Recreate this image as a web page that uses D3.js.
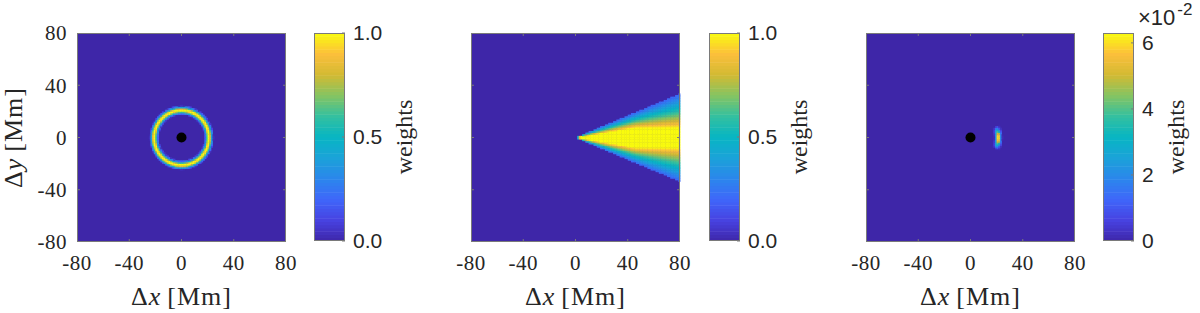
<!DOCTYPE html>
<html>
<head>
<meta charset="utf-8">
<script src="https://cdn.jsdelivr.net/npm/d3@7"></script>
<style>
  body { margin: 0; background: #fff; }
  text { fill: #262626; }
</style>
</head>
<body>
<svg id="chart" width="1200" height="313"></svg>
<script>
// axis ticks (Mm), same on both axes
const axisTicks = [-80, -40, 0, 40, 80];

// colorbar ticks
const unitTicks = [0, 0.5, 1];
const unitTickLabels = ["0.0", "0.5", "1.0"];
const smallTicks = [0, 0.02, 0.04, 0.06];
const smallTickLabels = ["0", "2", "4", "6"];
const smallMax = 0.063;

// parula colours, evenly spaced from 0 to 1
const parulaStops = [
  "#3e26a8", "#4742e1", "#3f66fa", "#2b86ec", "#1ba2d9", "#07b5c3",
  "#33c0a0", "#85c462", "#d2ba33", "#fcbf3b", "#f9fb0e"
];

// panel 1: ring weight against distance from the centre (Mm)
const ringRadius = [17.5, 19, 20.5, 21.5, 23, 24.5];
const ringWeight = [0, 0.45, 1, 1, 0.45, 0];

// panel 2: cone opening towards +x
const coneEdgeAngle = 22.8;   // deg, half opening
const coneCore = 7.7;         // Mm, half width of the full-weight core
const coneCoreShare = 0.4;    // core never wider than this share of the cone
// weight from the core (0) out to the cone edge (1)
const coneDepth = [0, 0.05, 0.15, 0.4, 0.7, 1];
const coneWeight = [1, 0.94, 0.85, 0.65, 0.42, 0.2];

// panel 3: small patch on the ring towards +x
const patchRadius = [18, 19.4, 20.5, 22, 23.1, 24.5];
const patchRadialWeight = [0, 0.35, 1, 1, 0.35, 0];
const patchAngle = [0, 8, 14, 19, 24];
const patchAngularWeight = [1, 0.85, 0.55, 0.3, 0];
const patchPeak = 0.062;

const gridStep = 1.25;

let svg = d3.select("#chart");
svg.append("rect").attr("width", 1200).attr("height", 313).attr("fill", "#fff");

let serif = "'Liberation Serif', 'Times New Roman', serif";
let sans = "'Liberation Sans', Arial, sans-serif";
let boxColour = "#7a7a7a";

let ringScale = d3.scaleLinear().domain(ringRadius).range(ringWeight).clamp(true);
let coneScale = d3.scaleLinear().domain(coneDepth).range(coneWeight).clamp(true);
let patchRScale = d3.scaleLinear().domain(patchRadius).range(patchRadialWeight).clamp(true);
let patchAScale = d3.scaleLinear().domain(patchAngle).range(patchAngularWeight).clamp(true);

function ringField(x, y) {
  return ringScale(Math.hypot(x, y));
}

function coneField(x, y) {
  if (x <= 0) return 0;
  let edge = x * Math.tan(coneEdgeAngle * Math.PI / 180);
  let ay = Math.abs(y);
  if (ay > edge) return 0;
  let core = Math.min(coneCore, coneCoreShare * edge);
  let u = Math.max(0, (ay - core) / (edge - core));
  return coneScale(u);
}

function patchField(x, y) {
  if (x <= 0) return 0;
  let angle = Math.atan2(Math.abs(y), x) * 180 / Math.PI;
  return patchPeak * patchRScale(Math.hypot(x, y)) * patchAScale(angle);
}

let panels = [
  { left: 77, cbLeft: 314, field: ringField, max: 1, ticks: unitTicks, labels: unitTickLabels, dot: true, yLabels: true },
  { left: 471, cbLeft: 709, field: coneField, max: 1, ticks: unitTicks, labels: unitTickLabels, dot: false, yLabels: false },
  { left: 866, cbLeft: 1103, field: patchField, max: smallMax, ticks: smallTicks, labels: smallTickLabels, dot: true, yLabels: false, exponent: true }
];

let plotTop = 33, size = 209, cbWidth = 31, cbHeight = 208;

panels.forEach((p) => drawPanel(p));

function axisLabel(g, letter) {
  g.append("tspan").text("\u0394");
  g.append("tspan").style("font-style", "italic").text(letter);
  g.append("tspan").attr("dx", 6).text("[Mm]");
}

function drawPanel(p) {
  let g = svg.append("g");

  let x = d3.scaleLinear().domain([-80, 80]).range([p.left, p.left + size]);
  let y = d3.scaleLinear().domain([-80, 80]).range([plotTop + size, plotTop]);

  let colour = d3.scaleLinear()
    .domain(parulaStops.map((c, i) => (i / (parulaStops.length - 1)) * p.max))
    .range(parulaStops)
    .interpolate(d3.interpolateRgb)
    .clamp(true);

  // build the cells
  let n = Math.round(160 / gridStep);
  let cells = [];
  for (let i = 0; i < n; i++) {
    for (let j = 0; j < n; j++) {
      let cx = -80 + (i + 0.5) * gridStep;
      let cy = -80 + (j + 0.5) * gridStep;
      let w = p.field(cx, cy);
      if (w > 0) cells.push({ x: cx, y: cy, w: w });
    }
  }

  g.append("rect")
    .attr("x", x(-80)).attr("y", y(80))
    .attr("width", size).attr("height", size)
    .attr("fill", colour(0));

  let cw = x(gridStep) - x(0);
  g.selectAll(".cell")
    .data(cells)
    .enter()
    .append("rect")
    .attr("class", "cell")
    .attr("x", (d) => x(d.x - gridStep / 2))
    .attr("y", (d) => y(d.y + gridStep / 2))
    .attr("width", cw + 0.4)
    .attr("height", cw + 0.4)
    .attr("fill", (d) => colour(d.w));

  if (p.dot) {
    g.append("circle")
      .attr("cx", x(0)).attr("cy", y(0)).attr("r", 5)
      .attr("fill", "#000");
  }

  // ticks inside the box
  let tickLen = 3;
  axisTicks.slice(1, -1).forEach((t) => {
    g.append("line").attr("x1", x(t)).attr("x2", x(t))
      .attr("y1", plotTop + size).attr("y2", plotTop + size - tickLen)
      .attr("stroke", boxColour);
    g.append("line").attr("x1", x(t)).attr("x2", x(t))
      .attr("y1", plotTop).attr("y2", plotTop + tickLen)
      .attr("stroke", boxColour);
    g.append("line").attr("y1", y(t)).attr("y2", y(t))
      .attr("x1", p.left).attr("x2", p.left + tickLen)
      .attr("stroke", boxColour);
    g.append("line").attr("y1", y(t)).attr("y2", y(t))
      .attr("x1", p.left + size).attr("x2", p.left + size - tickLen)
      .attr("stroke", boxColour);
  });

  g.append("rect")
    .attr("x", p.left + 0.5).attr("y", plotTop + 0.5)
    .attr("width", size - 1).attr("height", size - 1)
    .attr("fill", "none").attr("stroke", boxColour);

  // x tick labels
  g.selectAll(".xt")
    .data(axisTicks)
    .enter()
    .append("text")
    .attr("x", (d) => x(d))
    .attr("y", 270)
    .attr("text-anchor", "middle")
    .style("font-family", serif)
    .style("font-size", "21px")
    .style("letter-spacing", "0.5px")
    .text((d) => d);

  let xl = g.append("text")
    .attr("x", p.left + size / 2)
    .attr("y", 305)
    .attr("text-anchor", "middle")
    .style("font-family", serif)
    .style("font-size", "26px")
    .style("letter-spacing", "1px");
  axisLabel(xl, "x");

  if (p.yLabels) {
    g.selectAll(".yt")
      .data(axisTicks)
      .enter()
      .append("text")
      .attr("x", p.left - 10)
      .attr("y", (d) => y(d))
      .attr("dy", "0.35em")
      .attr("text-anchor", "end")
      .style("font-family", serif)
      .style("font-size", "21px")
      .style("letter-spacing", "0.5px")
      .text((d) => d);

    let yl = g.append("text")
      .attr("transform", `translate(22,${plotTop + size / 2}) rotate(-90)`)
      .attr("text-anchor", "middle")
      .style("font-family", serif)
      .style("font-size", "26px")
      .style("letter-spacing", "1px");
    axisLabel(yl, "y");
  }

  // colorbar
  let cb = d3.scaleLinear().domain([0, p.max]).range([plotTop + cbHeight, plotTop]);
  let bands = d3.range(64);
  g.selectAll(".band")
    .data(bands)
    .enter()
    .append("rect")
    .attr("x", p.cbLeft)
    .attr("y", (k) => cb(((k + 1) / 64) * p.max))
    .attr("width", cbWidth)
    .attr("height", (k) => cb((k / 64) * p.max) - cb(((k + 1) / 64) * p.max) + (k > 0 ? 0.5 : 0))
    .attr("fill", (k) => colour(((k + 0.5) / 64) * p.max));

  p.ticks.forEach((t) => {
    g.append("line").attr("y1", cb(t)).attr("y2", cb(t))
      .attr("x1", p.cbLeft + cbWidth).attr("x2", p.cbLeft + cbWidth - 3)
      .attr("stroke", boxColour);
  });

  g.append("rect")
    .attr("x", p.cbLeft + 0.5).attr("y", plotTop + 0.5)
    .attr("width", cbWidth - 1).attr("height", cbHeight - 1)
    .attr("fill", "none").attr("stroke", boxColour);

  let tickText = g.selectAll(".ct")
    .data(p.ticks)
    .enter()
    .append("text")
    .attr("x", p.cbLeft + cbWidth + 8)
    .attr("y", (d) => cb(d))
    .attr("dy", "0.35em")
    .style("font-family", sans)
    .style("font-size", "21px")
    .text((d, i) => p.labels[i]);

  let maxW = d3.max(tickText.nodes(), (n) => n.getBBox().width);
  let labelX = p.cbLeft + cbWidth + 8 + maxW + 30;

  g.append("text")
    .attr("transform", `translate(${labelX},${plotTop + cbHeight / 2}) rotate(-90)`)
    .attr("text-anchor", "middle")
    .style("font-family", serif)
    .style("font-size", "24px")
    .text("weights");

  if (p.exponent) {
    let ex = g.append("text")
      .attr("x", p.cbLeft + 35)
      .attr("y", 25)
      .style("font-family", sans)
      .style("font-size", "22px");
    ex.append("tspan").text("\u00d710");
    ex.append("tspan").attr("dx", 2).attr("dy", -10).style("font-size", "17px").text("-2");
  }
}
</script>
</body>
</html>
